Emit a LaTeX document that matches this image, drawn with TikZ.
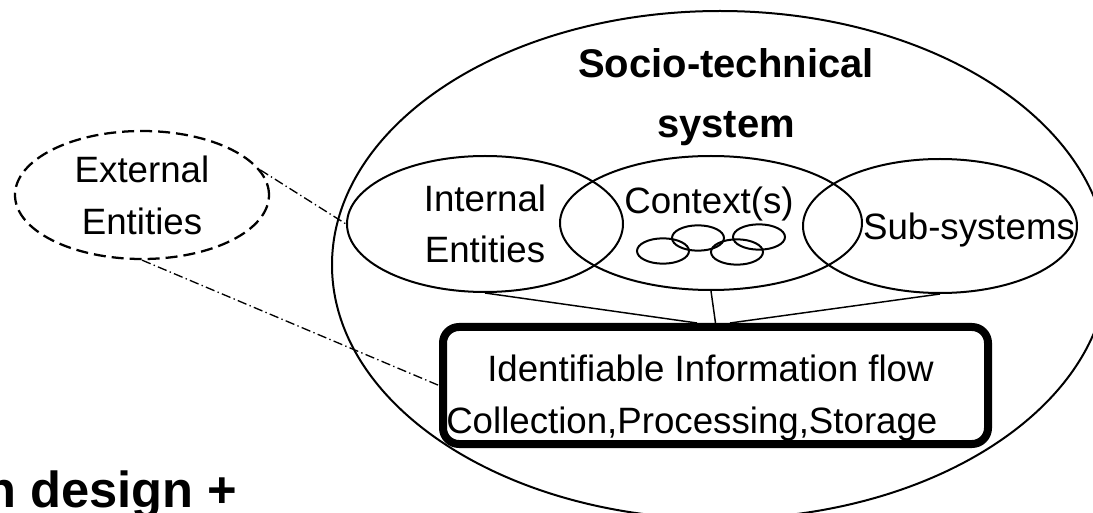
\documentclass[tikz,border=0pt]{standalone}
\usepackage{fontspec}
\setmainfont{Liberation Sans}
\usetikzlibrary{shapes.geometric,calc}

\begin{document}
\begin{tikzpicture}[x=0.75pt,y=-0.75pt,
  ell/.style={ellipse, draw, line width=1.5pt, inner sep=0pt, align=center,
              font=\fontsize{27.5pt}{38.5pt}\selectfont},
  ring/.style={ellipse, draw, line width=1.5pt, inner sep=0pt,
               minimum width=39pt, minimum height=19pt},
  txt/.style={inner sep=0pt, font=\fontsize{27.5pt}{38.5pt}\selectfont},
  ttl/.style={inner sep=0pt, font=\fontsize{30pt}{45pt}\selectfont\bfseries},
  flowbox/.style={draw, line width=6pt, rounded corners=12pt,
                  minimum width=408.75pt, minimum height=87.75pt},
  conn/.style={line width=1.1pt},
  link/.style={line width=1pt, dash pattern=on 7pt off 2.5pt on 1pt off 2.5pt}]

\useasboundingbox (0,0) rectangle (1093,513);
\clip (0,0) rectangle (1093,513);

% outer system
\node[ell, minimum width=582pt, minimum height=381pt] (sys) at (720,265) {};
\node[ttl, anchor=base] (ttlA) at (726,78) {Socio-technical};
\node[ttl, anchor=base] (ttlB) at (726,138) {system};

% parts of the system
\node[ell, minimum width=207pt, minimum height=102pt] (int) at (485,224)
  {Internal\\Entities};
\node[ell, minimum width=226.5pt, minimum height=100.5pt] (ctx) at (711,223) {};
\node[txt, anchor=base] (ctxlbl) at (709,214) {Context(s)};
\node[ell, minimum width=205.5pt, minimum height=100.5pt] (sub) at (940,226) {};
\node[txt, anchor=base] (sublbl) at (969,240) {Sub-systems};

% overlapping contexts
\node[ring] (r1) at (663,251) {};
\node[ring] (r2) at (698,238) {};
\node[ring] (r3) at (737,252) {};
\node[ring] (r4) at (759,237) {};

% information flow
\node[flowbox] (box) at (715.5,385.5) {};
\node[txt, anchor=base west] (flowA) at (487,382) {Identifiable Information flow};
\node[txt, anchor=base west] (flowB) at (446,433) {Collection,Processing,Storage};

\draw[conn] (int.south) -- ($(box.north)+(-18.5,0)$);
\draw[conn] (ctx.south) -- (box.north);
\draw[conn] (sub.south) -- ($(box.north)+(14.5,0)$);

% outside the system
\node[ell, dashed, dash pattern=on 9pt off 4.5pt, line width=1.7pt,
      minimum width=190.5pt, minimum height=96pt,
      font=\fontsize{27.5pt}{39pt}\selectfont] (ext) at (142,195)
  {External\\Entities};
\draw[link] (ext.12) -- (int.west);
\draw[link] (ext.south) -- (box.west);

\node[inner sep=0pt, anchor=base west, font=\fontsize{38pt}{44pt}\selectfont\bfseries]
  (slogan) at (-15,507) {n design +};
\end{tikzpicture}
\end{document}
